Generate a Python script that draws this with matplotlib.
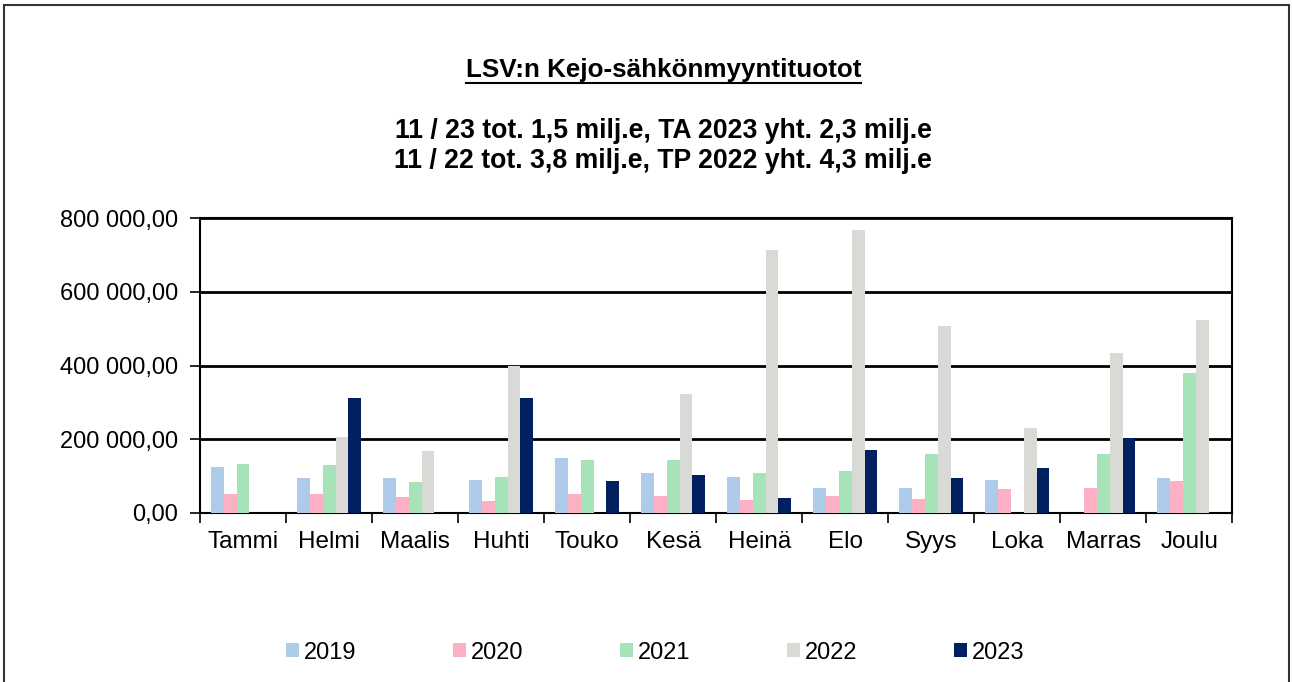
import matplotlib
matplotlib.use('Agg')
import matplotlib.pyplot as plt
import numpy as np
from matplotlib.ticker import FuncFormatter, MultipleLocator
from matplotlib.patches import Rectangle
from matplotlib.lines import Line2D

plt.rcParams['font.family'] = ['Liberation Sans', 'DejaVu Sans']

# Kuukaudet ja vuosittaiset myyntituotot (luettu kuvasta)
months = ['Tammi', 'Helmi', 'Maalis', 'Huhti', 'Touko', 'Kesä',
          'Heinä', 'Elo', 'Syys', 'Loka', 'Marras', 'Joulu']
years = ['2019', '2020', '2021', '2022', '2023']
v2019 = [124000, 95000, 95000, 90000, 150000, 107000, 98000, 67000, 67000, 88000, 0, 96000]
v2020 = [52000, 50000, 42000, 33000, 52000, 45000, 35000, 46000, 38000, 66000, 67000, 86000]
v2021 = [133000, 130000, 85000, 98000, 143000, 143000, 107000, 113000, 160000, 0, 160000, 380000]
v2022 = [0, 205000, 168000, 398000, 0, 323000, 713000, 767000, 508000, 230000, 435000, 523000]
v2023 = [0, 312000, 0, 312000, 87000, 103000, 40000, 170000, 95000, 122000, 202000, 0]
COLORS = ['#AECBEA', '#FBB0C3', '#A6E3B8', '#D9D9D5', '#002060']

fig = plt.figure(figsize=(12.93, 6.82), dpi=100)
ax = fig.add_axes([0.1547, 0.248, 0.7983, 0.432])

x = np.arange(len(months))
w = 0.15
for i, (vals, c, lab) in enumerate(zip([v2019, v2020, v2021, v2022, v2023], COLORS, years)):
    ax.bar(x + (i - 2) * w, vals, w, color=c, label=lab, zorder=3)

ax.set_xlim(-0.5, len(months) - 0.5)
ax.set_ylim(0, 800000)
ax.yaxis.set_major_locator(MultipleLocator(200000))
ax.yaxis.set_major_formatter(FuncFormatter(lambda v, p: f'{v:,.2f}'.replace(',', ' ').replace('.', ',')))
ax.grid(axis='y', color='black', linewidth=2, zorder=1)

# rajaviivat ryhmien välissä
ax.set_xticks(np.arange(-0.5, len(months), 1))
ax.set_xticklabels([])
ax.set_xticks(x, minor=True)
ax.set_xticklabels(months, minor=True, fontsize=17.5)
ax.tick_params(axis='x', which='minor', length=0, pad=13)
ax.tick_params(axis='x', which='major', length=7, width=1.2, direction='out')
ax.tick_params(axis='y', labelsize=17, length=7, width=1.2, direction='out', pad=9)
for s in ax.spines.values():
    s.set_linewidth(1.5)

# Otsikot
cx = 0.513
t = fig.text(cx, 0.897, 'LSV:n Kejo-sähkönmyyntituotot', ha='center', va='center',
             fontsize=18.7, fontweight='bold')
fig.text(cx, 0.808, '11 / 23 tot. 1,5 milj.e, TA 2023 yht. 2,3 milj.e', ha='center', va='center',
         fontsize=19.2, fontweight='bold')
fig.text(cx, 0.764, '11 / 22 tot. 3,8 milj.e, TP 2022 yht. 4,3 milj.e', ha='center', va='center',
         fontsize=19.2, fontweight='bold')

fig.legend(loc='center', bbox_to_anchor=(0.507, 0.043), ncol=5, frameon=False,
           fontsize=17, handlelength=0.55, handleheight=0.55, handletextpad=0.2,
           columnspacing=4.1)

# Alleviivaus otsikolle
fig.canvas.draw()
bb = t.get_window_extent().transformed(fig.transFigure.inverted())
fig.add_artist(Line2D([bb.x0, bb.x1], [bb.y0 - 0.001, bb.y0 - 0.001], color='black',
                      linewidth=1.5, transform=fig.transFigure))

# Kehys
fig.add_artist(Rectangle((0.003, -0.01), 0.994, 1.003, fill=False, edgecolor='#333333',
                         linewidth=1.5, transform=fig.transFigure))

fig.savefig('out.png', dpi=100)
